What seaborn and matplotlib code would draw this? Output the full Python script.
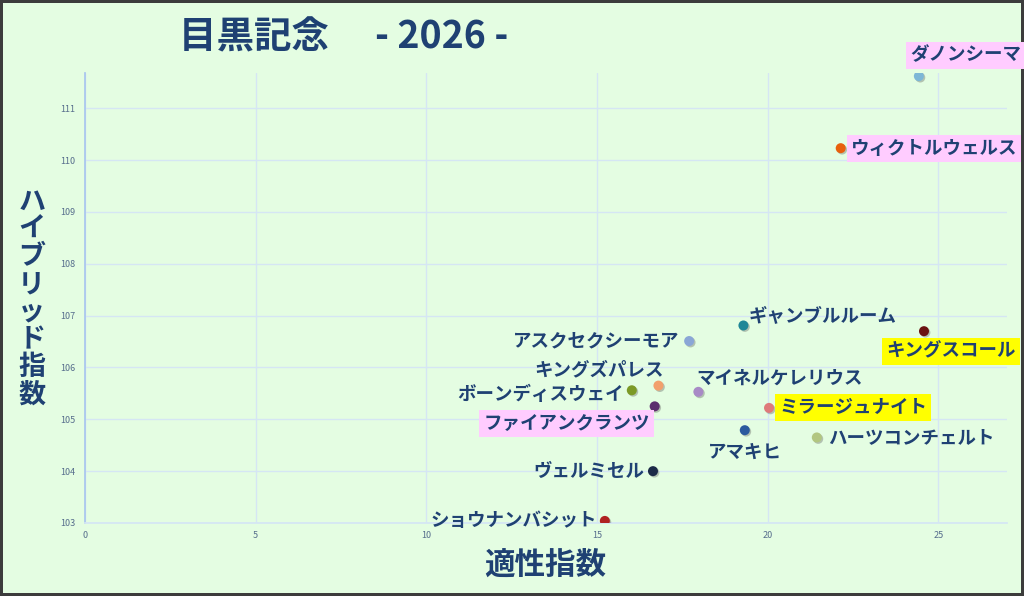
import matplotlib
matplotlib.use("Agg")
import matplotlib.pyplot as plt
import matplotlib.patheffects as pe
import seaborn as sns
import pandas as pd

# 目黒記念 2026: 適性指数 vs ハイブリッド指数
horses = ["ダノンシーマ", "ウィクトルウェルス", "ギャンブルルーム", "キングスコール",
          "アスクセクシーモア", "キングズパレス", "ボーンディスウェイ", "マイネルケレリウス",
          "ファイアンクランツ", "ミラージュナイト", "アマキヒ", "ハーツコンチェルト",
          "ヴェルミセル", "ショウナンバシット"]
tekisei = [24.43, 22.14, 19.29, 24.58, 17.70, 16.80, 16.02, 17.97,
           16.69, 20.04, 19.33, 21.44, 16.64, 15.23]
hybrid = [111.62, 110.23, 106.81, 106.70, 106.51, 105.65, 105.56, 105.53,
          105.25, 105.22, 104.79, 104.65, 104.00, 103.04]
colors = ["#7db7d6", "#e8600c", "#1f8797", "#6a1212", "#8aa6d6", "#f2a06c", "#7c9a26",
          "#a88ac6", "#5c2e6e", "#de7a7a", "#2b5a9e", "#b2c680", "#1c2a48", "#b02222"]
# label highlight: pink / yellow / none
highlight = ["#ffccff", "#ffccff", None, "#ffff00", None, None, None, None,
             "#ffccff", "#ffff00", None, None, None, None]
# label offsets in pixels and alignment
offsets = [(-9, 21, "left"), (10, 0, "left"), (5, 10, "left"), (27, -20, "center"),
           (-10, 0, "right"), (5, 16, "right"), (-8, -4, "right"), (-2, 14, "left"),
           (-5, -17, "right"), (10, 0, "left"), (0, -22, "center"), (11, 0, "left"),
           (-9, 0, "right"), (-8, 0, "right")]

df = pd.DataFrame({"name": horses, "x": tekisei, "y": hybrid})

bg = "#e4fde2"
navy = "#1f4173"
sns.set_theme(style="white")
plt.rcParams["font.family"] = ["Noto Sans CJK JP", "DejaVu Sans"]

fig = plt.figure(figsize=(10.24, 5.96), dpi=100)
fig.patch.set_facecolor(bg)
fig.patch.set_edgecolor("#3c3c3c")
fig.patch.set_linewidth(3)
ax = fig.add_axes([0.083, 0.1225, 0.9, 0.755])
ax.set_facecolor(bg)

shadow = [pe.SimplePatchShadow(offset=(1, -1), shadow_rgbFace="#555555", alpha=0.35), pe.Normal()]
sns.scatterplot(data=df, x="x", y="y", hue="name", palette=colors, s=52,
                edgecolor="none", legend=False, ax=ax, zorder=3, path_effects=shadow)

ax.set_xlim(0, 27)
ax.set_ylim(103, 111.68)
ax.set_xticks([0, 5, 10, 15, 20, 25])
ax.set_yticks([103, 104, 105, 106, 107, 108, 109, 110, 111])
ax.grid(True, color="#d5e6f4", linewidth=1)
ax.tick_params(axis="both", length=0, labelsize=6.5, labelcolor="#566d8c")
ax.tick_params(axis="y", pad=7)
ax.tick_params(axis="x", pad=6)
for s in ["top", "right"]:
    ax.spines[s].set_visible(False)
ax.spines["left"].set_color("#a9c6ee")
ax.spines["bottom"].set_color("#d5e6f4")
ax.set_xlabel("")
ax.set_ylabel("")

for name, x, y, (dx, dy, ha), hl in zip(horses, tekisei, hybrid, offsets, highlight):
    box = None
    if hl:
        box = dict(boxstyle="square,pad=0.22", facecolor=hl, edgecolor="none")
    ax.annotate(name, (x, y), xytext=(dx, dy), textcoords="offset pixels",
                ha=ha, va="center", fontsize=13.3, fontweight="bold", color=navy,
                bbox=box, zorder=4)

fig.text(0.175, 0.938, "目黒記念　 - 2026 -", fontsize=27, fontweight="bold",
         color=navy, ha="left", va="center")
fig.text(0.532, 0.052, "適性指数", fontsize=22, fontweight="bold",
         color=navy, ha="center", va="center")
fig.text(0.031, 0.5, "\n".join("ハイブリッド指数"), fontsize=19.5, fontweight="bold",
         color=navy, ha="center", va="center", linespacing=0.98)

fig.savefig("out.png", dpi=100, facecolor=fig.get_facecolor(),
            edgecolor=fig.get_edgecolor())
